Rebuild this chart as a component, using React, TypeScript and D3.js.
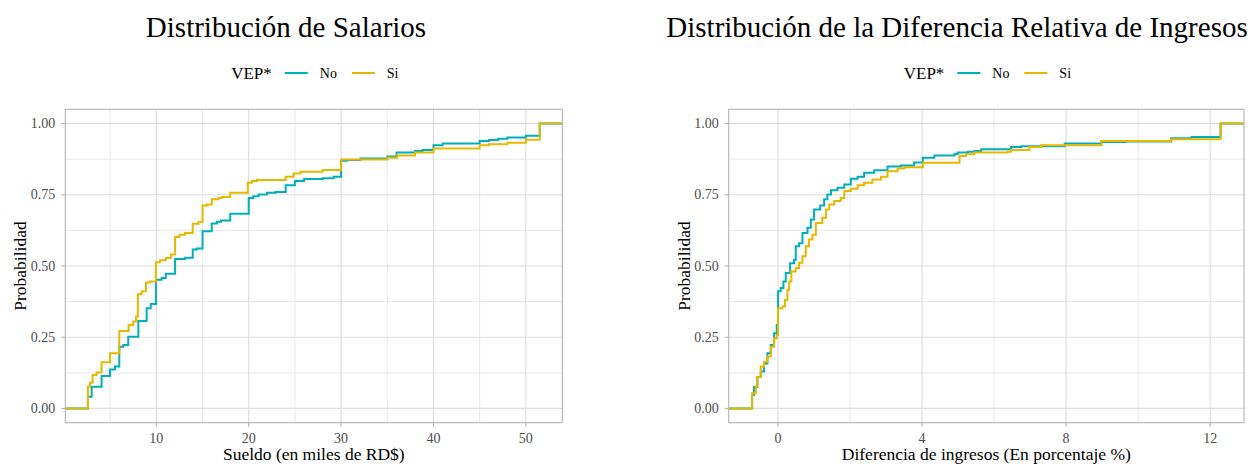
import React from "react";
import * as d3 from "d3";

// ---------- Data ----------
const probTicks = [0, 0.25, 0.5, 0.75, 1];
const probMinor = [0.125, 0.375, 0.625, 0.875];

// Panel 1: Sueldo (miles RD$)
const salarioTicks = [10, 20, 30, 40, 50];
const salarioMinor = [5, 15, 25, 35, 45];
const salarioNoX = [2.59, 3.0, 4.07, 4.98, 5.52, 5.99, 6.42, 6.96, 8.05, 8.95, 9.39, 9.97, 10.58, 11.02, 12.03, 13.11, 13.94, 14.38, 15.0, 16.0, 16.55, 17.0, 18.0, 20.0, 20.5, 21.07, 21.97, 22.9, 24.0, 25.0, 26.0, 28.0, 29.2, 30.0, 30.65, 32.1, 35.0, 36.0, 38.0, 38.8, 40.0, 41.0, 45.0, 46.0, 47.0, 48.0, 50.0, 51.5];
const salarioNoP = [0.041, 0.076, 0.114, 0.137, 0.147, 0.217, 0.223, 0.252, 0.307, 0.352, 0.367, 0.452, 0.458, 0.473, 0.525, 0.529, 0.558, 0.561, 0.622, 0.649, 0.655, 0.66, 0.683, 0.739, 0.745, 0.751, 0.757, 0.76, 0.783, 0.798, 0.805, 0.808, 0.813, 0.869, 0.872, 0.877, 0.884, 0.898, 0.904, 0.907, 0.924, 0.93, 0.939, 0.942, 0.947, 0.951, 0.957, 1.0];
const salarioSiX = [2.59, 2.81, 3.1, 3.53, 4.07, 4.98, 5.99, 7.0, 7.5, 7.8, 8.0, 8.41, 8.88, 9.32, 9.95, 10.4, 11.02, 11.56, 12.03, 12.5, 13.11, 13.94, 14.56, 15.0, 15.47, 16.0, 16.72, 17.09, 17.99, 19.9, 20.34, 20.89, 24.0, 24.86, 25.59, 28.0, 30.0, 35.0, 36.07, 38.0, 40.0, 45.0, 46.0, 48.0, 50.0, 51.5];
const salarioSiP = [0.076, 0.09, 0.117, 0.126, 0.162, 0.194, 0.272, 0.293, 0.305, 0.323, 0.401, 0.411, 0.442, 0.446, 0.513, 0.52, 0.528, 0.54, 0.602, 0.61, 0.616, 0.648, 0.654, 0.712, 0.716, 0.734, 0.739, 0.742, 0.757, 0.792, 0.798, 0.802, 0.813, 0.825, 0.831, 0.837, 0.874, 0.88, 0.888, 0.898, 0.912, 0.924, 0.927, 0.933, 0.943, 1.0];

// Panel 2: Diferencia de ingresos (%)
const difTicks = [0, 4, 8, 12];
const difMinor = [2, 6, 10];
const difNoX = [-0.72, -0.667, -0.574, -0.481, -0.389, -0.296, -0.203, -0.11, -0.036, 0.0, 0.074, 0.149, 0.214, 0.335, 0.446, 0.492, 0.585, 0.678, 0.817, 0.91, 1.0, 1.17, 1.28, 1.37, 1.47, 1.65, 1.84, 2.02, 2.21, 2.39, 2.67, 3.04, 3.41, 3.78, 4.02, 4.34, 4.9, 4.99, 5.27, 5.45, 5.64, 6.47, 6.75, 7.96, 8.98, 9.65, 10.92, 11.48, 12.29];
const difNoP = [0.047, 0.076, 0.11, 0.13, 0.158, 0.194, 0.223, 0.264, 0.293, 0.411, 0.423, 0.446, 0.475, 0.51, 0.522, 0.569, 0.58, 0.616, 0.634, 0.663, 0.698, 0.712, 0.734, 0.751, 0.766, 0.775, 0.786, 0.806, 0.813, 0.827, 0.836, 0.849, 0.853, 0.863, 0.88, 0.888, 0.893, 0.898, 0.901, 0.904, 0.91, 0.918, 0.92, 0.93, 0.935, 0.937, 0.948, 0.953, 1.0];
const difSiX = [-0.72, -0.62, -0.574, -0.481, -0.389, -0.296, -0.203, -0.11, -0.036, 0.0, 0.12, 0.19, 0.26, 0.31, 0.37, 0.49, 0.585, 0.678, 0.77, 0.86, 0.956, 1.05, 1.23, 1.33, 1.42, 1.56, 1.74, 1.84, 2.02, 2.21, 2.39, 2.62, 2.86, 3.04, 3.32, 3.51, 4.02, 5.04, 5.22, 5.45, 6.38, 6.47, 6.98, 7.31, 8.98, 10.92, 12.29];
const difSiP = [0.053, 0.076, 0.11, 0.147, 0.164, 0.182, 0.217, 0.246, 0.258, 0.352, 0.358, 0.381, 0.417, 0.446, 0.481, 0.493, 0.511, 0.534, 0.569, 0.593, 0.61, 0.651, 0.669, 0.698, 0.716, 0.728, 0.739, 0.763, 0.771, 0.783, 0.792, 0.804, 0.813, 0.833, 0.842, 0.847, 0.862, 0.886, 0.892, 0.898, 0.901, 0.907, 0.918, 0.924, 0.939, 0.945, 1.0];

const groups = ["No", "Si"];
const colors = ["#00AFBB", "#E7B800"];

// ---------- Styles ----------
const FONT = "'Liberation Serif', 'Times New Roman', serif";
const GRID = "#DEDEDE";
const BORDER = "#B3B3B3";
const TICKTXT = "#4D4D4D";

type PanelProps = {
  left: number; right: number; top: number; bottom: number;
  title: string; titleX: number; xLabel: string;
  ticks: number[]; minor: number[];
  series: { x: number[]; p: number[] }[];
};

function Panel(props: PanelProps) {
  const { left, right, top, bottom, title, titleX, xLabel, ticks, minor, series } = props;
  const allX = series.flatMap((s) => s.x);
  const mn = d3.min(allX) as number;
  const mx = d3.max(allX) as number;
  const pad = (mx - mn) * 0.05;
  const x = d3.scaleLinear().domain([mn - pad, mx + pad]).range([left, right]);
  const y = d3.scaleLinear().domain([-0.05, 1.05]).range([bottom, top]);
  const [d0, d1] = x.domain();
  const line = d3
    .line<[number, number]>()
    .x((d) => x(d[0]))
    .y((d) => y(d[1]))
    .curve(d3.curveStepAfter);
  const cx = (left + right) / 2;
  const cy = (top + bottom) / 2;
  return (
    <g>
      <text x={titleX} y={37} textAnchor="middle" fontFamily={FONT} fontSize={29} fill="#000">
        {title}
      </text>
      {/* legend */}
      <g fontFamily={FONT} fill="#000">
        <text x={cx - 42} y={79} textAnchor="end" fontSize={17}>VEP*</text>
        {groups.map((g, i) => {
          const off = i === 0 ? -29 : 38;
          return (
            <g key={g}>
              <line x1={cx + off} x2={cx + off + 23} y1={73} y2={73} stroke={colors[i]} strokeWidth={2} />
              <text x={cx + off + 35} y={78} fontSize={14}>{g}</text>
            </g>
          );
        })}
      </g>
      {/* grid */}
      {minor.filter((v) => v > d0 && v < d1).map((v) => (
        <line key={"xm" + v} x1={x(v)} x2={x(v)} y1={top} y2={bottom} stroke={GRID} strokeWidth={0.7} />
      ))}
      {probMinor.map((v) => (
        <line key={"ym" + v} x1={left} x2={right} y1={y(v)} y2={y(v)} stroke={GRID} strokeWidth={0.7} />
      ))}
      {ticks.map((v) => (
        <line key={"xM" + v} x1={x(v)} x2={x(v)} y1={top} y2={bottom} stroke={GRID} strokeWidth={1.2} />
      ))}
      {probTicks.map((v) => (
        <line key={"yM" + v} x1={left} x2={right} y1={y(v)} y2={y(v)} stroke={GRID} strokeWidth={1.2} />
      ))}
      {/* series */}
      {series.map((s, i) => {
        const pts: [number, number][] = [[d0, 0]];
        s.x.forEach((xv, j) => pts.push([xv, s.p[j]]));
        pts.push([d1, 1]);
        return (
          <path key={i} d={line(pts) || ""} fill="none" stroke={colors[i]} strokeWidth={2} />
        );
      })}
      {/* border */}
      <rect x={left} y={top} width={right - left} height={bottom - top} fill="none" stroke={BORDER} strokeWidth={1.1} />
      {/* axes ticks */}
      {ticks.map((v) => (
        <g key={"xt" + v}>
          <line x1={x(v)} x2={x(v)} y1={bottom} y2={bottom + 4} stroke={BORDER} strokeWidth={1.1} />
          <text x={x(v)} y={443} textAnchor="middle" fontFamily={FONT} fontSize={14} fill={TICKTXT}>
            {d3.format("d")(v)}
          </text>
        </g>
      ))}
      {probTicks.map((v) => (
        <g key={"yt" + v}>
          <line x1={left - 4} x2={left} y1={y(v)} y2={y(v)} stroke={BORDER} strokeWidth={1.1} />
          <text x={left - 10} y={y(v) + 4.5} textAnchor="end" fontFamily={FONT} fontSize={14} fill={TICKTXT}>
            {d3.format(".2f")(v)}
          </text>
        </g>
      ))}
      <text x={cx} y={459.5} textAnchor="middle" fontFamily={FONT} fontSize={17.5} fill="#000">
        {xLabel}
      </text>
      <text
        transform={`translate(${left - 39},${cy}) rotate(-90)`}
        textAnchor="middle"
        fontFamily={FONT}
        fontSize={17.5}
        fill="#000"
      >
        Probabilidad
      </text>
    </g>
  );
}

export default function App() {
  return (
    <svg
      width={1254}
      height={464}
      style={{ position: "absolute", left: 0, top: 0, background: "#fff" }}
    >
      <rect x={0} y={0} width={1254} height={464} fill="#fff" />
      <Panel
        left={65.3}
        right={562.3}
        top={109.3}
        bottom={422.7}
        title="Distribución de Salarios"
        titleX={286}
        xLabel="Sueldo (en miles de RD$)"
        ticks={salarioTicks}
        minor={salarioMinor}
        series={[
          { x: salarioNoX, p: salarioNoP },
          { x: salarioSiX, p: salarioSiP },
        ]}
      />
      <Panel
        left={728.7}
        right={1244}
        top={109.3}
        bottom={422.7}
        title="Distribución de la Diferencia Relativa de Ingresos"
        titleX={957}
        xLabel="Diferencia de ingresos (En porcentaje %)"
        ticks={difTicks}
        minor={difMinor}
        series={[
          { x: difNoX, p: difNoP },
          { x: difSiX, p: difSiP },
        ]}
      />
    </svg>
  );
}
